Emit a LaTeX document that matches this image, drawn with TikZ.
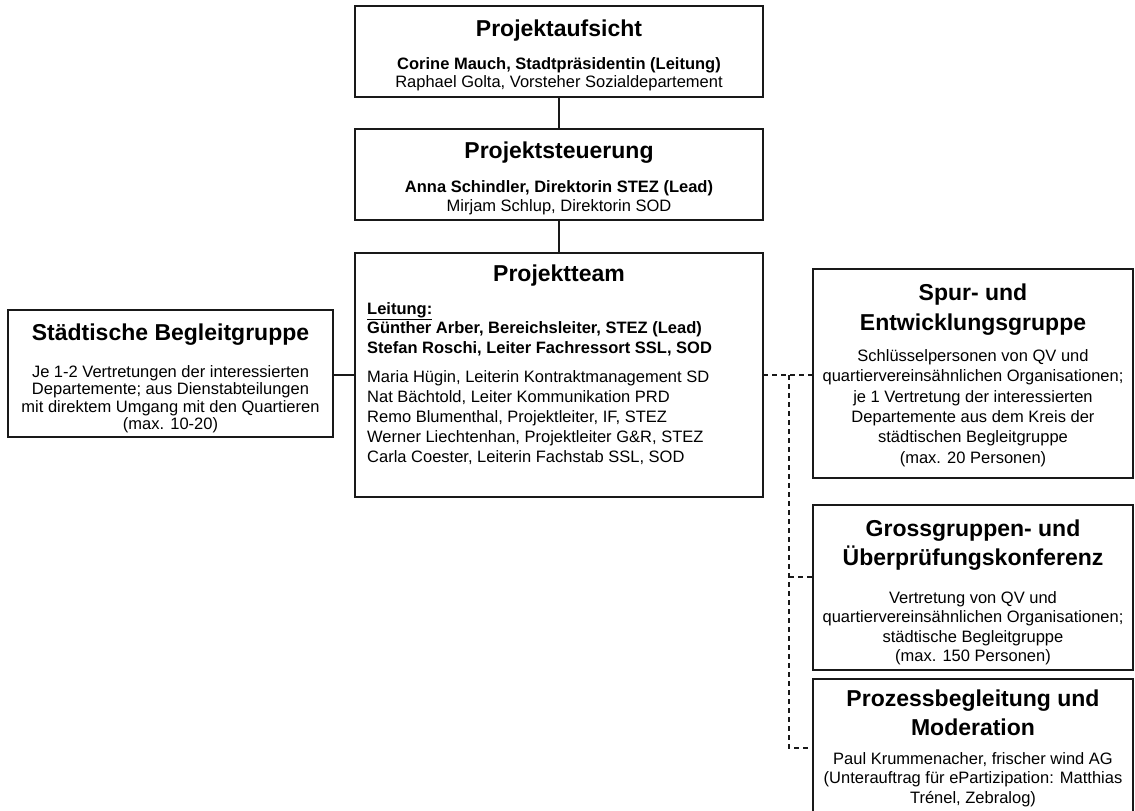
\documentclass[tikz,border=0pt]{standalone}
\usepackage{fontspec}
\setmainfont{Liberation Sans}
\tikzset{
  box/.style={draw=black!90, line width=1.3pt, inner sep=0pt, outer sep=0pt, anchor=north west, fill=white},
  ttl/.style={anchor=north, inner sep=0pt, align=center, font=\fontsize{23}{#1}\selectfont\bfseries},
  bodyc/.style={anchor=north, inner sep=0pt, align=center, font=\fontsize{16.5}{#1}\selectfont},
  bodyl/.style={anchor=north west, inner sep=0pt, align=left, font=\fontsize{16.5}{#1}\selectfont},
  conn/.style={draw=black!90, line width=1.6pt},
  dconn/.style={draw=black!90, line width=1.1pt, dash pattern=on 5pt off 4pt}
}
\begin{document}
\lineskiplimit=-50pt
\begin{tikzpicture}[x=1pt,y=-1pt]
\clip (0,0) rectangle (1135,811);
\fill[white] (0,0) rectangle (1135,811);

% boxes
\node[box, minimum width=408pt, minimum height=91pt] (auf) at (355,6) {};
\node[box, minimum width=408pt, minimum height=91pt] (steu) at (355,129) {};
\node[box, minimum width=408pt, minimum height=244pt] (team) at (355,253) {};
\node[box, minimum width=325pt, minimum height=127pt] (begl) at (8,310) {};
\node[box, minimum width=320pt, minimum height=209pt] (spur) at (813,269) {};
\node[box, minimum width=320pt, minimum height=165pt] (gross) at (813,505) {};
\node[box, minimum width=320pt, minimum height=160pt] (proz) at (813,679) {};

% texts
\node[ttl=29.5] (aufT) at (559,13.3) {\rule{0pt}{1em}Projektaufsicht};
\node[bodyc=18] (aufB) at (559,52.5) {\rule{0pt}{1em}\textbf{Corine Mauch, Stadtpräsidentin (Leitung)}\\Raphael Golta, Vorsteher Sozialdepartement};

\node[ttl=29.5] (steuT) at (559,135.3) {\rule{0pt}{1em}Projektsteuerung};
\node[bodyc=19] (steuB) at (559,175.5) {\rule{0pt}{1em}\textbf{Anna Schindler, Direktorin STEZ (Lead)}\\Mirjam Schlup, Direktorin SOD};

\node[ttl=29.5] (teamT) at (559,258.3) {\rule{0pt}{1em}Projektteam};
\node[bodyl=19.5] (teamL) at (367,297.5) {\rule{0pt}{1em}\textbf{\underline{Leitung:}}\\\textbf{Günther Arber, Bereichsleiter, STEZ (Lead)}\\\textbf{Stefan Roschi, Leiter Fachressort SSL, SOD}};
\node[bodyl=20] (teamM) at (367,365.5) {\rule{0pt}{1em}Maria Hügin, Leiterin Kontraktmanagement SD\\Nat Bächtold, Leiter Kommunikation PRD\\Remo Blumenthal, Projektleiter, IF, STEZ\\Werner Liechtenhan, Projektleiter G\&R, STEZ\\Carla Coester, Leiterin Fachstab SSL, SOD};

\node[ttl=29.5] (beglT) at (170.5,317.3) {\rule{0pt}{1em}Städtische Begleitgruppe};
\node[bodyc=17.5] (beglB) at (170.5,360.5) {\rule{0pt}{1em}Je 1-2 Vertretungen der interessierten\\Departemente; aus Dienstabteilungen\\mit direktem Umgang mit den Quartieren\\(max. 10-20)};

\node[ttl=30] (spurT) at (973,277.3) {\rule{0pt}{1em}Spur- und\\Entwicklungsgruppe};
\node[bodyc=20.4] (spurB) at (973,344.5) {\rule{0pt}{1em}Schlüsselpersonen von QV und\\quartiervereinsähnlichen Organisationen;\\je 1 Vertretung der interessierten\\Departemente aus dem Kreis der\\städtischen Begleitgruppe\\(max. 20 Personen)};

\node[ttl=29] (grossT) at (973,513.3) {\rule{0pt}{1em}Grossgruppen- und\\Überprüfungskonferenz};
\node[bodyc=19.5] (grossB) at (973,586.5) {\rule{0pt}{1em}Vertretung von QV und\\quartiervereinsähnlichen Organisationen;\\städtische Begleitgruppe\\(max. 150 Personen)};

\node[ttl=29] (prozT) at (973,683.3) {\rule{0pt}{1em}Prozessbegleitung und\\Moderation};
\node[bodyc=19.5] (prozB) at (973,747.5) {\rule{0pt}{1em}Paul Krummenacher, frischer wind AG\\(Unterauftrag für ePartizipation: Matthias\\Trénel, Zebralog)};

% connectors
\draw[conn] (auf.south) -- (steu.north);
\draw[conn] (steu.south) -- (team.north);
\draw[conn] (team.west) -- (team.west -| begl.east);

\coordinate (j1) at (789,375);
\coordinate (j2) at (789,577);
\coordinate (j3) at (789,748);
\draw[dconn] (team.east) -- (team.east -| spur.west);
\draw[dconn] (j1) -- (j3) -- (j3 -| proz.west);
\draw[dconn] (j2) -- (j2 -| gross.west);
\end{tikzpicture}
\end{document}
